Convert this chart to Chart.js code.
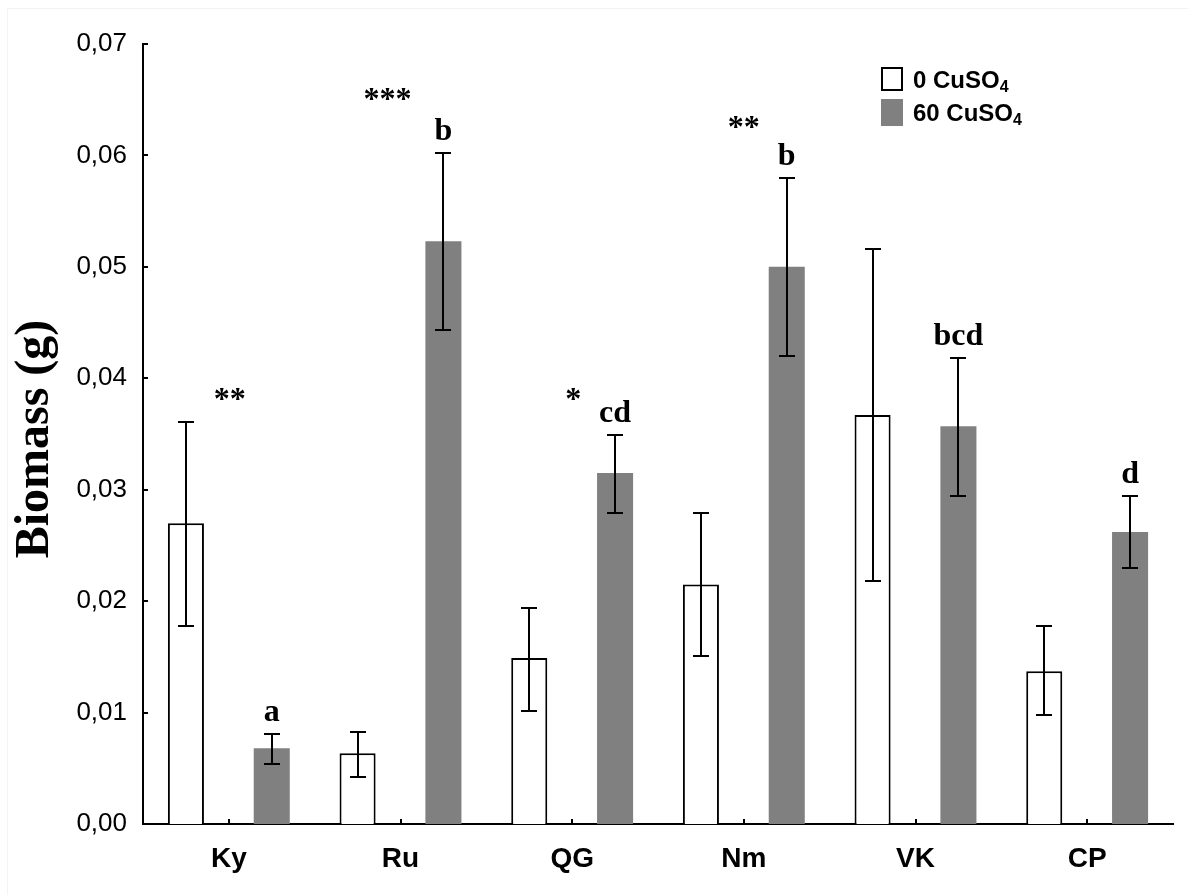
<!DOCTYPE html>
<html><head><meta charset="utf-8">
<script src="https://cdn.jsdelivr.net/npm/chart.js@4.4.0/dist/chart.umd.min.js"></script>
<style>html,body{margin:0;padding:0;background:#fff;overflow:hidden}#wrap{width:1188px;height:895px}</style>
</head><body><div id="wrap"><canvas id="c" width="1188" height="895"></canvas></div>
<script>
const categories = ['Ky', 'Ru', 'QG', 'Nm', 'VK', 'CP'];
const seriesNames = ['0 CuSO', '60 CuSO'];
const seriesSub = ['4', '4'];
const mean0 = [0.0270, 0.00635, 0.0149, 0.0215, 0.0367, 0.0137];
const upper0 = [0.0361, 0.0083, 0.0194, 0.0279, 0.0516, 0.0178];
const lower0 = [0.0178, 0.00425, 0.0101, 0.0151, 0.0218, 0.0098];
const mean60 = [0.0068, 0.0523, 0.0315, 0.0500, 0.0357, 0.0262];
const upper60 = [0.0081, 0.0602, 0.0349, 0.0580, 0.0418, 0.0294];
const lower60 = [0.0054, 0.0443, 0.0279, 0.0420, 0.0294, 0.0230];
const yTickLabels = ['0,00', '0,01', '0,02', '0,03', '0,04', '0,05', '0,06', '0,07'];
const starLabels = ['**', '***', '*', '**', '', ''];
const starValues = [0.0385, 0.0654, 0.0385, 0.0629, null, null];
const letterLabels = ['a', 'b', 'cd', 'b', 'bcd', 'd'];
const yTitle = 'Biomass (g)';

const SERIF = '"Liberation Serif","Times New Roman",serif';
const SANS = '"Liberation Sans",Arial,sans-serif';

const bgPlugin = {
  id: 'bg',
  beforeDraw(chart) {
    const ctx = chart.ctx;
    ctx.save();
    ctx.fillStyle = '#fff';
    ctx.fillRect(0, 0, chart.width, chart.height);
    ctx.strokeStyle = '#f3f3f3';
    ctx.lineWidth = 1;
    ctx.strokeRect(7.5, 8.5, chart.width, chart.height);
    ctx.restore();
  }
};

const extrasPlugin = {
  id: 'extras',
  afterDatasetsDraw(chart) {
    const ctx = chart.ctx;
    const y = chart.scales.y, x = chart.scales.x;
    const area = chart.chartArea;
    ctx.save();
    // inward tick marks
    ctx.strokeStyle = '#000';
    ctx.lineWidth = 2;
    y.ticks.forEach(t => {
      const py = Math.round(y.getPixelForValue(t.value));
      ctx.beginPath(); ctx.moveTo(area.left, py); ctx.lineTo(area.left + 5, py); ctx.stroke();
    });
    categories.forEach((c, i) => {
      const px = Math.round(x.getPixelForValue(i));
      ctx.beginPath(); ctx.moveTo(px, area.bottom); ctx.lineTo(px, area.bottom - 5); ctx.stroke();
    });
    // error bars
    const errs = [[upper0, lower0], [upper60, lower60]];
    errs.forEach((e, di) => {
      const meta = chart.getDatasetMeta(di);
      meta.data.forEach((bar, j) => {
        const bx = Math.round(bar.x);
        const yt = Math.round(y.getPixelForValue(e[0][j]));
        const yb = Math.round(y.getPixelForValue(e[1][j]));
        ctx.beginPath();
        ctx.moveTo(bx, yt); ctx.lineTo(bx, yb);
        ctx.moveTo(bx - 8, yt); ctx.lineTo(bx + 8, yt);
        ctx.moveTo(bx - 8, yb); ctx.lineTo(bx + 8, yb);
        ctx.stroke();
      });
    });
    // letters above grey bars
    ctx.fillStyle = '#000';
    ctx.font = 'bold 32px ' + SERIF;
    ctx.textAlign = 'center';
    ctx.textBaseline = 'alphabetic';
    const meta1 = chart.getDatasetMeta(1);
    letterLabels.forEach((l, j) => {
      const bx = meta1.data[j].x;
      ctx.fillText(l, bx, y.getPixelForValue(upper60[j]) - 13);
    });
    // significance stars
    const starShift = [1, -13, 1, 0, 0, 0];
    starLabels.forEach((s, i) => {
      if (!s) return;
      const px = x.getPixelForValue(i) + starShift[i];
      ctx.fillText(s, px, y.getPixelForValue(starValues[i]) + 14);
    });
    // y title
    ctx.save();
    ctx.translate(48, 439);
    ctx.rotate(-Math.PI / 2);
    ctx.font = 'bold 48px ' + SERIF;
    ctx.textAlign = 'center';
    ctx.fillText(yTitle, 0, 0);
    ctx.restore();
    // legend
    const fills = ['#ffffff', '#808080'];
    const rowsY = [79, 112];
    rowsY.forEach((cy, i) => {
      if (i === 0) {
        ctx.fillStyle = '#fff';
        ctx.fillRect(881, cy - 12, 22, 24);
        ctx.strokeStyle = '#000'; ctx.lineWidth = 2;
        ctx.strokeRect(882, cy - 11, 20, 22);
      } else {
        ctx.fillStyle = fills[1];
        ctx.fillRect(881, cy - 13, 22, 27);
      }
      ctx.fillStyle = '#000';
      ctx.textAlign = 'left';
      ctx.font = 'bold 24px ' + SANS;
      const base = cy + 8.5;
      ctx.fillText(seriesNames[i], 913, base);
      const w = ctx.measureText(seriesNames[i]).width;
      ctx.font = 'bold 16px ' + SANS;
      ctx.fillText(seriesSub[i], 913 + w, base + 4);
    });
    ctx.restore();
  }
};

new Chart(document.getElementById('c'), {
  type: 'bar',
  data: {
    labels: categories,
    datasets: [
      { label: seriesNames[0] + seriesSub[0], data: mean0, backgroundColor: '#ffffff', borderColor: '#000', borderWidth: 2, borderSkipped: 'bottom' },
      { label: seriesNames[1] + seriesSub[1], data: mean60, backgroundColor: '#808080', borderWidth: 0 }
    ]
  },
  options: {
    responsive: false,
    animation: false,
    devicePixelRatio: 1,
    categoryPercentage: 1.0,
    barPercentage: 0.42,
    layout: { padding: { left: 0, right: 15, top: 44, bottom: 0 } },
    plugins: { legend: { display: false }, tooltip: { enabled: false }, title: { display: false } },
    scales: {
      x: {
        grid: { display: false },
        border: { display: true, color: '#000', width: 2 },
        ticks: { color: '#000', font: { family: SANS, size: 28, weight: 'bold' }, padding: 10 },
        afterFit(s) { s.height = 71; }
      },
      y: {
        min: 0, max: 0.07,
        grid: { display: false },
        border: { display: true, color: '#000', width: 2 },
        ticks: {
          stepSize: 0.01, color: '#000', padding: 8,
          font: { family: SANS, size: 26 },
          callback: (v) => yTickLabels[Math.round(v * 100)]
        },
        afterFit(s) { s.width = 143; }
      }
    }
  },
  plugins: [bgPlugin, extrasPlugin]
});
</script></body></html>
